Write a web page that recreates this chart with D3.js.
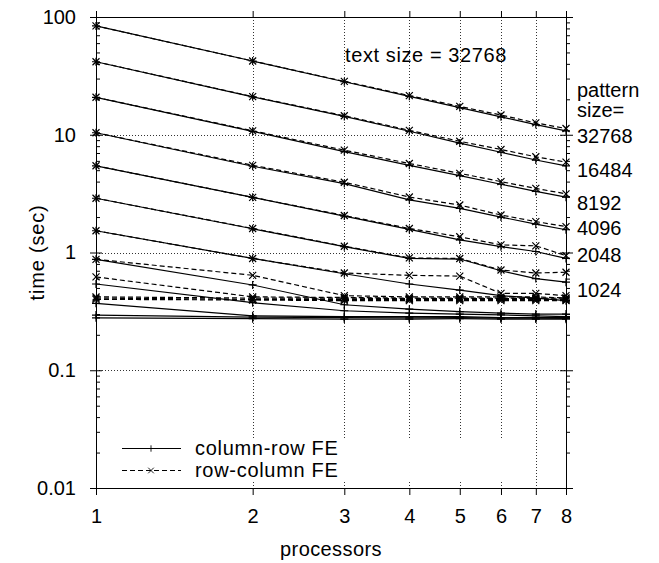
<!DOCTYPE html>
<html>
<head>
<meta charset="utf-8">
<script src="https://cdn.jsdelivr.net/npm/d3@7"></script>
<style>
  html, body { margin: 0; padding: 0; background: #fff; }
  svg { display: block; }
  text { font-family: "Liberation Sans", Arial, Helvetica, sans-serif; font-size: 20px; fill: #000; }
</style>
</head>
<body>
<svg id="chart" width="659" height="563"></svg>
<script>
// Processor counts on the x axis
const processors = [1, 2, 3, 4, 5, 6, 7, 8];

// Axis ticks
const yTickValues = [0.01, 0.1, 1, 10, 100];
const yTickLabels = ["0.01", "0.1", "1", "10", "100"];

// Pattern-size labels written beside the right axis
const patternLabels = ["32768", "16484", "8192", "4096", "2048", "1024"];

// Run times in seconds, column-row FE (cr) and row-column FE (rc), per pattern size
const cr32768 = [84, 42.3, 28.2, 21.2, 17.0, 14.2, 12.2, 10.8];
const rc32768 = [84, 42.3, 28.4, 21.5, 17.4, 14.7, 12.6, 11.3];
const cr16384 = [41.7, 21.0, 14.3, 10.7, 8.5, 7.1, 6.1, 5.45];
const rc16384 = [41.7, 21.1, 14.5, 10.9, 8.8, 7.5, 6.5, 5.85];
const cr8192  = [20.8, 10.7, 7.2, 5.5, 4.5, 3.8, 3.3, 2.95];
const rc8192  = [20.8, 10.8, 7.4, 5.7, 4.7, 4.0, 3.5, 3.15];
const cr4096  = [10.4, 5.4, 3.85, 2.8, 2.37, 2.0, 1.74, 1.56];
const rc4096  = [10.4, 5.5, 3.95, 2.96, 2.53, 2.08, 1.83, 1.66];
const cr2048  = [5.45, 2.94, 2.04, 1.57, 1.28, 1.12, 1.02, 0.89];
const rc2048  = [5.45, 2.94, 2.06, 1.6, 1.36, 1.16, 1.14, 0.94];
const cr1024  = [2.89, 1.59, 1.12, 0.89, 0.88, 0.70, 0.60, 0.56];
const rc1024  = [2.89, 1.6, 1.13, 0.9, 0.89, 0.71, 0.67, 0.68];
const cr512   = [1.53, 0.89, 0.66, 0.54, 0.48, 0.43, 0.41, 0.39];
const rc512   = [1.53, 0.89, 0.67, 0.64, 0.63, 0.45, 0.45, 0.43];
const cr256   = [0.875, 0.53, 0.36, 0.33, 0.315, 0.305, 0.30, 0.30];
const rc256   = [0.875, 0.64, 0.43, 0.42, 0.42, 0.42, 0.42, 0.41];
const cr128   = [0.54, 0.375, 0.32, 0.305, 0.30, 0.295, 0.29, 0.285];
const rc128   = [0.62, 0.42, 0.415, 0.41, 0.41, 0.41, 0.41, 0.41];
const cr64    = [0.37, 0.29, 0.285, 0.285, 0.285, 0.28, 0.28, 0.28];
const rc64    = [0.42, 0.41, 0.41, 0.405, 0.405, 0.405, 0.405, 0.40];
const cr32    = [0.294, 0.283, 0.28, 0.278, 0.28, 0.277, 0.277, 0.276];
const rc32    = [0.41, 0.40, 0.40, 0.40, 0.40, 0.40, 0.40, 0.395];
const cr16    = [0.279, 0.274, 0.272, 0.272, 0.274, 0.272, 0.272, 0.271];
const rc16    = [0.40, 0.395, 0.39, 0.39, 0.39, 0.39, 0.39, 0.39];

const columnRowSeries = [cr32768, cr16384, cr8192, cr4096, cr2048, cr1024, cr512, cr256, cr128, cr64, cr32, cr16];
const rowColumnSeries = [rc32768, rc16384, rc8192, rc4096, rc2048, rc1024, rc512, rc256, rc128, rc64, rc32, rc16];

// ---- layout ----
const plotLeft = 96, plotRight = 566, plotTop = 17, plotBottom = 488;
const svg = d3.select("#chart");

const x = d3.scaleLog().domain([1, 8]).range([plotLeft, plotRight]);
const y = d3.scaleLog().domain([0.01, 100]).range([plotBottom, plotTop]);

const minorTicks = [];
[0.01, 0.1, 1, 10].forEach(d => { for (let k = 2; k <= 9; k++) minorTicks.push(d * k); });

const px = v => Math.round(v) + 0.5;

// ---- grid ----
const grid = svg.append("g")
  .attr("stroke", "#333").attr("stroke-width", 1).attr("stroke-dasharray", "1,2").attr("fill", "none");
[10, 1, 0.1].forEach(v => {
  grid.append("line").attr("x1", plotLeft).attr("x2", plotRight).attr("y1", px(y(v))).attr("y2", px(y(v)));
});
processors.filter(p => p > 1 && p < 8).forEach(p => {
  const gx = px(x(p));
  if (p <= 6) {
    // vertical grid lines break around the key
    grid.append("line").attr("x1", gx).attr("x2", gx).attr("y1", plotTop).attr("y2", 438);
    grid.append("line").attr("x1", gx).attr("x2", gx).attr("y1", 482).attr("y2", plotBottom);
  } else {
    grid.append("line").attr("x1", gx).attr("x2", gx).attr("y1", plotTop).attr("y2", plotBottom);
  }
});

// ---- series ----
const line = d3.line().x((d, i) => x(processors[i])).y(d => y(d));
const plusPath = "M-4,0H4M0,-4V4";
const crossPath = "M-3.5,-3.5L3.5,3.5M-3.5,3.5L3.5,-3.5";

const plot = svg.append("g").attr("fill", "none").attr("stroke", "#000").attr("stroke-width", 1.2);
columnRowSeries.forEach((cr, s) => {
  const rc = rowColumnSeries[s];
  plot.append("path").attr("d", line(cr));
  plot.selectAll(null).data(cr).enter().append("path")
    .attr("d", plusPath)
    .attr("transform", (d, i) => `translate(${x(processors[i])},${y(d)})`);
  plot.append("path").attr("d", line(rc)).attr("stroke-dasharray", "5,3");
  plot.selectAll(null).data(rc).enter().append("path")
    .attr("d", crossPath)
    .attr("transform", (d, i) => `translate(${x(processors[i])},${y(d)})`);
});

// ---- key ----
const key = svg.append("g");
const keyRows = [
  { label: "column-row FE", dash: null, mark: plusPath, y: 448 },
  { label: "row-column FE", dash: "5,3", mark: crossPath, y: 470 }
];
keyRows.forEach(r => {
  key.append("line").attr("x1", 122).attr("x2", 181).attr("y1", r.y + 0.5).attr("y2", r.y + 0.5)
    .attr("stroke", "#000").attr("stroke-width", 1.1).attr("stroke-dasharray", r.dash);
  key.append("path").attr("d", r.mark).attr("transform", `translate(151,${r.y + 0.5}) scale(0.8)`)
    .attr("stroke", "#000").attr("stroke-width", 1.1).attr("fill", "none");
  key.append("text").attr("x", 195).attr("y", r.y + 7).attr("letter-spacing", "0.7px").text(r.label);
});

// ---- axes ----
function clean(g) {
  g.select(".domain").remove();
  g.attr("font-size", null).attr("font-family", null);
  g.selectAll(".tick line").attr("stroke", "#000");
}
const blank = () => "";

svg.append("g").attr("transform", `translate(${plotLeft},0)`)
  .call(d3.axisLeft(y).tickValues(yTickValues)
    .tickFormat(d => yTickLabels[yTickValues.indexOf(d)]).tickSize(6).tickPadding(14))
  .call(clean);
svg.append("g").attr("transform", `translate(${plotLeft},0)`)
  .call(d3.axisRight(y).tickValues(yTickValues).tickFormat(blank).tickSize(6)).call(clean);
svg.append("g").attr("transform", `translate(${plotLeft},0)`)
  .call(d3.axisRight(y).tickValues(minorTicks).tickFormat(blank).tickSize(4)).call(clean);

svg.append("g").attr("transform", `translate(${plotRight},0)`)
  .call(d3.axisRight(y).tickValues(yTickValues).tickFormat(blank).tickSize(7)).call(clean);
svg.append("g").attr("transform", `translate(${plotRight},0)`)
  .call(d3.axisLeft(y).tickValues(yTickValues).tickFormat(blank).tickSize(6)).call(clean);
svg.append("g").attr("transform", `translate(${plotRight},0)`)
  .call(d3.axisRight(y).tickValues(minorTicks).tickFormat(blank).tickSize(4)).call(clean);

svg.append("g").attr("transform", `translate(0,${plotBottom})`)
  .call(d3.axisBottom(x).tickValues(processors).tickFormat(d3.format("d")).tickSize(7).tickPadding(14))
  .call(clean);
svg.append("g").attr("transform", `translate(0,${plotTop})`)
  .call(d3.axisTop(x).tickValues(processors).tickFormat(blank).tickSize(6)).call(clean);

// plot border
svg.append("rect")
  .attr("x", plotLeft + 0.5).attr("y", plotTop + 0.5)
  .attr("width", plotRight - plotLeft).attr("height", plotBottom - plotTop)
  .attr("fill", "none").attr("stroke", "#000").attr("stroke-width", 1);

// ---- titles and annotations ----
svg.append("text").attr("x", (plotLeft + plotRight) / 2).attr("y", 556)
  .attr("text-anchor", "middle").attr("letter-spacing", "0.4px").text("processors");
svg.append("text").attr("transform", `translate(44,${(plotTop + plotBottom) / 2}) rotate(-90)`)
  .attr("text-anchor", "middle").attr("letter-spacing", "0.8px").text("time (sec)");
svg.append("text").attr("x", 345).attr("y", 62).attr("letter-spacing", "0.6px").text("text size = 32768");

svg.append("text").attr("x", 577).attr("y", 97).text("pattern");
svg.append("text").attr("x", 577).attr("y", 117).text("size=");
const labelBaselines = [143, 177, 210, 235, 262, 297];
patternLabels.forEach((t, i) => {
  svg.append("text").attr("x", 577).attr("y", labelBaselines[i]).text(t);
});
</script>
</body>
</html>
